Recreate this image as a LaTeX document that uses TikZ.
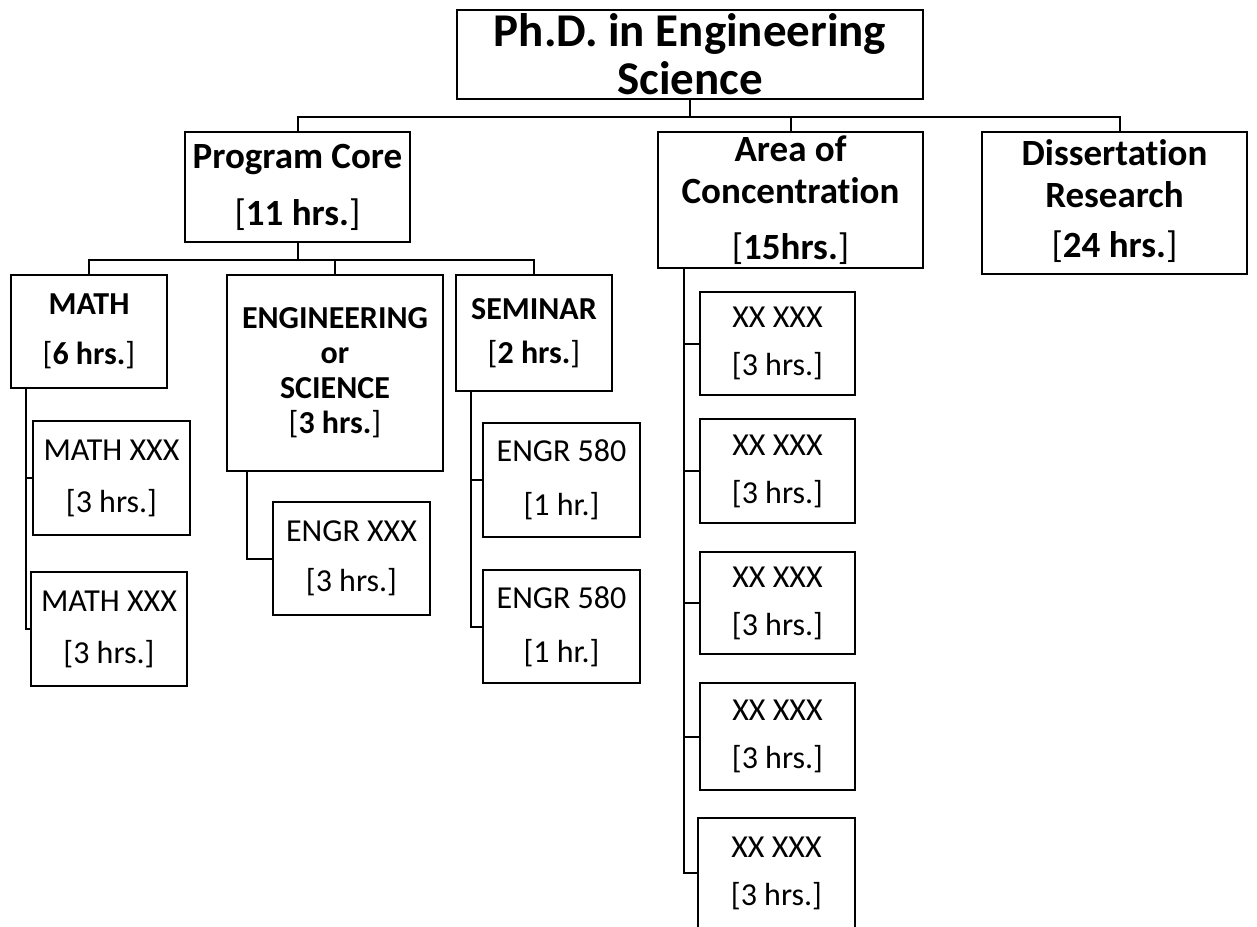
\documentclass[tikz,border=0pt]{standalone}
\usepackage{fontspec}
\setmainfont{Carlito}[Ligatures=NoCommon]
\usetikzlibrary{positioning}

% bracket around bold hours
\newcommand{\brk}[1]{{\normalfont[}\textbf{#1}{\normalfont]}}

\tikzset{
  box/.style={draw, line width=2pt, inner sep=0pt, align=center, font=\fontsize{32}{49}\selectfont},
  toptier/.style={box, font=\fontsize{37}{42}\selectfont\bfseries},
  midtier/.style={box, font=\fontsize{32}{48}\selectfont\bfseries},
  link/.style={line width=2pt}
}

\begin{document}
\begin{tikzpicture}[x=1pt,y=-1pt]
    \useasboundingbox (0,0) rectangle (1257,926);

    \node[box, font=\fontsize{47}{48}\selectfont\bfseries, minimum width=466, minimum height=89] (title) at (690,54.5) {Ph.D. in Engineering\\Science};

    \node[toptier, minimum width=225, minimum height=110] (core) at (297.5,187) {\raisebox{-3pt}{Program Core}\\[18pt]\brk{11 hrs.}};
    \node[toptier, minimum width=265, minimum height=136] (area) at (790.5,200) {Area of\\Concentration\\[14pt]\brk{15hrs.}};
    \node[toptier, minimum width=265, minimum height=142] (diss) at (1114.5,203) {Dissertation\\Research\\[8pt]\brk{24 hrs.}\rule[-8pt]{0pt}{0pt}};

    \node[midtier, minimum width=156, minimum height=113] (math) at (89,331.5) {MATH\\[2pt]\brk{6 hrs.}};
    \node[midtier, font=\fontsize{32}{35}\selectfont\bfseries, minimum width=216, minimum height=196] (eng) at (335,373) {ENGINEERING\\or\\SCIENCE\\\brk{3 hrs.}};
    \node[midtier, font=\fontsize{32}{44}\selectfont\bfseries, minimum width=156, minimum height=116] (sem) at (534,333) {SEMINAR\\\brk{2 hrs.}};

    \node[box, minimum width=157, minimum height=114] (mathA) at (111.5,478) {MATH XXX\\[3pt]{[}3 hrs.{]}};
    \node[box, minimum width=156, minimum height=114] (mathB) at (109,629) {MATH XXX\\[3pt]{[}3 hrs.{]}};
    \node[box, minimum width=157, minimum height=113] (engA) at (351.5,558.5) {ENGR XXX\\[1pt]{[}3 hrs.{]}};
    \node[box, minimum width=157, minimum height=114] (semA) at (561.5,480) {ENGR 580\\[5pt]{[}1 hr.{]}};
    \node[box, minimum width=157, minimum height=113] (semB) at (561.5,626.5) {ENGR 580\\[5pt]{[}1 hr.{]}};

    \node[box, minimum width=155, minimum height=103] (xxA) at (777.5,343.5) {XX XXX\\[-1pt]{[}3 hrs.{]}};
    \node[box, minimum width=155, minimum height=104] (xxB) at (777.5,471) {XX XXX\\[-1pt]{[}3 hrs.{]}};
    \node[box, minimum width=155, minimum height=102] (xxC) at (777.5,603) {XX XXX\\[-1pt]{[}3 hrs.{]}};
    \node[box, minimum width=155, minimum height=107] (xxD) at (777.5,736.5) {XX XXX\\[-1pt]{[}3 hrs.{]}};
    \node[box, minimum width=157, minimum height=110] (xxE) at (776.5,873) {XX XXX\\[-1pt]{[}3 hrs.{]}};

    % top level
    \draw[link] (title.south) -- ++(0,17) -| (core.north);
    \draw[link] (title.south) ++(0,17) -| (area.north);
    \draw[link] (title.south) ++(0,17) -| ([xshift=5.5pt]diss.north);

    % program core
    \draw[link] (core.south) -- ++(0,17) -| (math.north);
    \draw[link] (core.south) ++(0,17) -| (eng.north);
    \draw[link] (core.south) ++(0,17) -| (sem.north);

    % rails
    \draw[link] ([xshift=16pt]math.south west) |- (mathA.west);
    \draw[link] ([xshift=16pt]math.south west) |- (mathB.west);
    \draw[link] ([xshift=21pt]eng.south west) |- (engA.west);
    \draw[link] ([xshift=16pt]sem.south west) |- (semA.west);
    \draw[link] ([xshift=16pt]sem.south west) |- (semB.west);
    \draw[link] ([xshift=27pt]area.south west) |- (xxA.west);
    \draw[link] ([xshift=27pt]area.south west) |- (xxB.west);
    \draw[link] ([xshift=27pt]area.south west) |- (xxC.west);
    \draw[link] ([xshift=27pt]area.south west) |- (xxD.west);
    \draw[link] ([xshift=27pt]area.south west) |- (xxE.west);
\end{tikzpicture}
\end{document}
